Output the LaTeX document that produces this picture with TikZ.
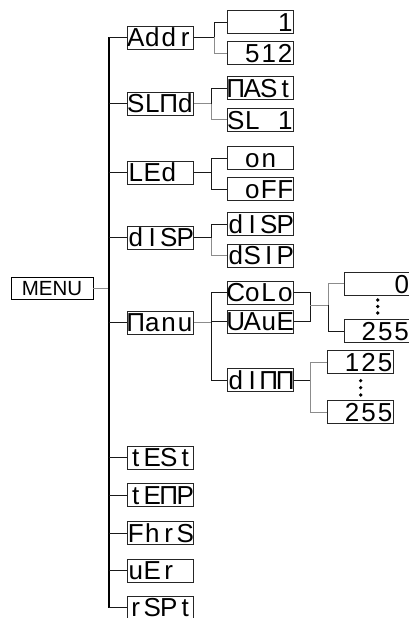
\documentclass[tikz,border=0pt]{standalone}
\usepackage{fontspec}
\setmainfont{Liberation Sans}
\newcommand\segc[1]{\makebox[16.5pt]{#1}}
\newcommand\segs[4]{\segc{#1}\segc{#2}\segc{#3}\segc{#4}}
\begin{document}
\begin{tikzpicture}[x=1pt,y=-1pt,
  disp/.style={draw=black!85,line width=0.8pt,fill=white,inner sep=0pt,
    minimum width=66pt,minimum height=23pt,text height=18.8pt,text depth=0pt,
    font=\fontsize{26}{26}\selectfont},
  menubox/.style={draw=black,line width=0.9pt,inner sep=0pt,minimum width=82pt,
    minimum height=22pt,font=\fontsize{20.5}{20.5}\selectfont},
  cn/.style={draw=black!90,line width=0.9pt},
  cg/.style={draw=black!45,line width=0.9pt},
  trunkline/.style={draw=black,line width=1.2pt},
  segdot/.style={circle,fill=black,inner sep=0pt,minimum size=3.6pt}]
\useasboundingbox (0,0) rectangle (408,618);
% menu
\node[menubox] (menu) at (52,288.5) {MENU};
\coordinate (trunk) at (109,0);
% level 1
\node[disp] (addr) at (160.5,37.5) {\segs{A}{d}{d}{r}};
\node[disp] (slnd) at (160.5,103.5) {\segs{S}{L}{Π}{d}};
\node[disp] (led)  at (160.5,172.5) {\segs{L}{E}{d}{}};
\node[disp] (disp) at (160.5,237.5) {\segs{d}{I}{S}{P}};
\node[disp] (manu) at (160.5,322.5) {\segs{Π}{a}{n}{u}};
\node[disp] (test) at (160.5,457.5) {\segs{t}{E}{S}{t}};
\node[disp] (temp) at (160.5,495) {\segs{t}{E}{Π}{P}};
\node[disp] (fhrs) at (160.5,533) {\segs{F}{h}{r}{S}};
\node[disp] (ver)  at (160.5,570.5) {\segs{u}{E}{r}{}};
\node[disp] (rspt) at (160.5,607.5) {\segs{r}{S}{P}{t}};
% trunk
\draw[cg] (menu) -- (menu -| trunk);
\draw[trunkline] (addr -| trunk) -- (rspt -| trunk);
\foreach \n in {addr,slnd,led,disp,manu,test,temp,fhrs,ver,rspt}
  \draw[cn] (\n -| trunk) -- (\n);
% level 2
\node[disp] (a1)   at (260.5,22)    {\segs{}{}{}{1}};
\node[disp] (a512) at (260.5,53)    {\segs{}{5}{1}{2}};
\node[disp] (mast) at (260.5,88)    {\segs{Π}{A}{S}{t}};
\node[disp] (sl1)  at (260.5,119.7) {\segs{S}{L}{}{1}};
\node[disp] (on)   at (260.5,158)   {\segs{}{o}{n}{}};
\node[disp] (off)  at (260.5,189)   {\segs{}{o}{F}{F}};
\node[disp] (dsp)  at (260.5,224)   {\segs{d}{I}{S}{P}};
\node[disp] (dsip) at (260.5,255.5) {\segs{d}{S}{I}{P}};
\node[disp] (colo) at (260.5,292.5) {\segs{C}{o}{L}{o}};
\node[disp] (vaue) at (260.5,321.5) {\segs{U}{A}{u}{E}};
\node[disp] (dimm) at (260.5,380)   {\segs{d}{I}{Π}{Π}};
% forks level 1 -> 2
\coordinate (fa) at (214,37.5);
\coordinate (fs) at (211,103.5);
\coordinate (fl) at (211,172.5);
\coordinate (fd) at (211,237.5);
\coordinate (fm) at (211.7,322.5);
\draw[cn] (addr) -- (fa);
\draw[cn] (fa) |- (a1);
\draw[cg] (fa) |- (a512);
\draw[cg] (slnd) -- (fs);
\draw[cn] (fs) |- (mast);
\draw[cg] (fs) |- (sl1);
\draw[cn] (led) -- (fl);
\draw[cn] (fl) |- (on);
\draw[cn] (fl) |- (off);
\draw[cn] (disp) -- (fd);
\draw[cn] (fd) |- (dsp);
\draw[cg] (fd) |- (dsip);
\draw[cg] (manu) -- (fm);
\draw[cn] (fm) |- (colo);
\draw[cn] (fm) |- (vaue);
\draw[cn] (fm) |- (dimm);
% level 3
\node[disp] (c0)   at (377,283.7) {\segs{}{}{}{0}};
\node[disp] (c255) at (377,331)   {\segs{}{2}{5}{5}};
\node[disp] (d125) at (360.3,362) {\segs{}{1}{2}{5}};
\node[disp] (d255) at (360.3,412) {\segs{}{2}{5}{5}};
\coordinate (jc) at (310,305);
\coordinate (fc) at (328,305);
\coordinate (fdm) at (310.7,380);
\draw[cn] (colo) -| (jc);
\draw[cn] (vaue) -| (jc);
\draw[cg] (jc) -- (fc);
\draw[cg] (fc) |- (c0);
\draw[cn] (fc) |- (c255);
\draw[cn] (dimm) -- (fdm);
\draw[cg] (fdm) |- (d125);
\draw[cg] (fdm) |- (d255);
% dots
\node[segdot] (cd1) at (377.7,300) {};
\node[segdot] (cd2) at (377.7,306.5) {};
\node[segdot] (cd3) at (377.7,313) {};
\node[segdot] (dd1) at (360.7,380.7) {};
\node[segdot] (dd2) at (360.7,387.7) {};
\node[segdot] (dd3) at (360.7,395) {};
\end{tikzpicture}
\end{document}
